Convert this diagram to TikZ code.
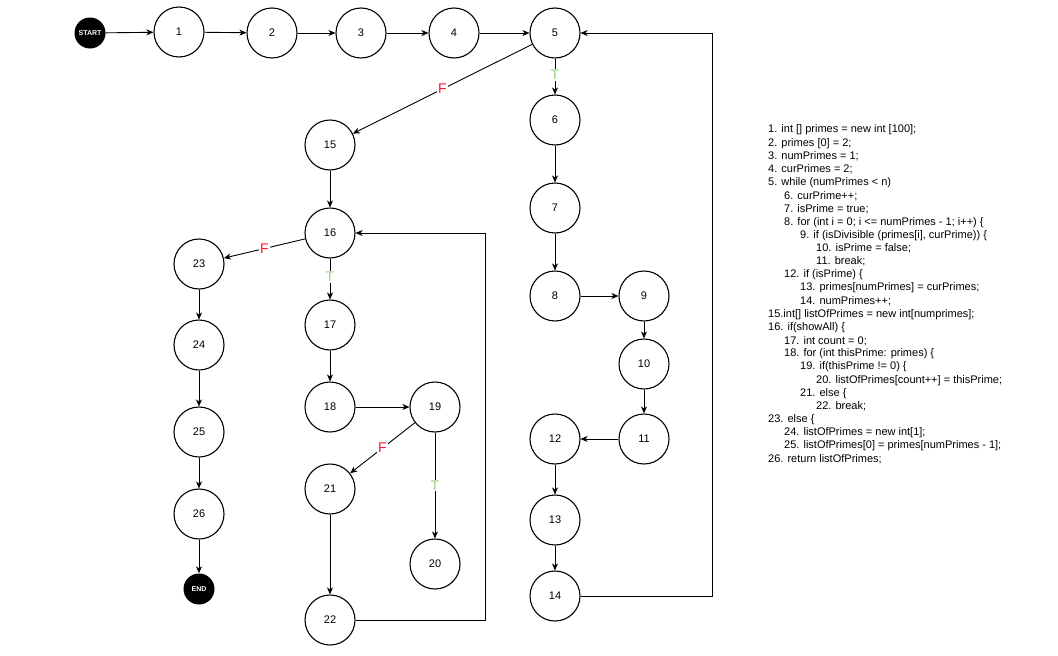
\documentclass[tikz,border=0pt]{standalone}
\usepackage{fontspec}
\setmainfont{Liberation Sans}
\usetikzlibrary{arrows.meta}
\definecolor{fred}{RGB}{255,20,40}
\definecolor{tgreen}{RGB}{150,208,130}
\tikzset{
  st/.style={circle,draw=black,line width=1.1pt,minimum size=50pt,inner sep=0pt,font=\fontsize{11}{11}\selectfont,fill=white},
  term/.style={circle,fill=black,minimum size=31pt,inner sep=0pt,text=white,font=\fontsize{7}{7}\selectfont\bfseries},
  ar/.style={line width=0.9pt,-{Stealth[length=7pt,width=6pt,inset=2pt]}},
  flab/.style={fill=white,inner sep=1pt,text=fred,font=\fontsize{14}{14}\selectfont},
  tlab/.style={fill=white,inner sep=1pt,text=tgreen,font=\fontsize{14}{14}\selectfont},
  code/.style={anchor=west,inner sep=0pt,font=\fontsize{11}{11}\selectfont}
}
\begin{document}
\begin{tikzpicture}[x=1pt,y=-1pt]
\useasboundingbox (0,0) rectangle (1058,656);
\node[term] (start) at (90,33) {START};
\node[st] (n1) at (179,32) {1};
\node[st] (n2) at (272,33) {2};
\node[st] (n3) at (361,33) {3};
\node[st] (n4) at (454,33) {4};
\node[st] (n5) at (555,33) {5};
\node[st] (n6) at (555,120) {6};
\node[st] (n7) at (555,208) {7};
\node[st] (n8) at (555,296) {8};
\node[st] (n9) at (644,296) {9};
\node[st] (n10) at (644,364) {10};
\node[st] (n11) at (644,439) {11};
\node[st] (n12) at (555,439) {12};
\node[st] (n13) at (555,520) {13};
\node[st] (n14) at (555,596) {14};
\node[st] (n15) at (330,145) {15};
\node[st] (n16) at (330,233) {16};
\node[st] (n17) at (330,325) {17};
\node[st] (n18) at (330,407) {18};
\node[st] (n19) at (435,407) {19};
\node[st] (n20) at (435,564) {20};
\node[st] (n21) at (330,489) {21};
\node[st] (n22) at (330,620) {22};
\node[st] (n23) at (199,264) {23};
\node[st] (n24) at (199,345) {24};
\node[st] (n25) at (199,432) {25};
\node[st] (n26) at (199,514) {26};
\node[term] (end) at (199,589) {END};
\coordinate (c14) at (712,596);
\coordinate (c5) at (712,33);
\coordinate (c22) at (485,620);
\coordinate (c16) at (485,233);

\draw[ar] (start) -- (n1);
\draw[ar] (n1) -- (n2);
\draw[ar] (n2) -- (n3);
\draw[ar] (n3) -- (n4);
\draw[ar] (n4) -- (n5);
\draw[ar] (n5) -- node[tlab,pos=0.45]{T} (n6);
\draw[ar] (n5) -- node[flab,pos=0.5]{F} (n15);
\draw[ar] (n6) -- (n7);
\draw[ar] (n7) -- (n8);
\draw[ar] (n8) -- (n9);
\draw[ar] (n9) -- (n10);
\draw[ar] (n10) -- (n11);
\draw[ar] (n11) -- (n12);
\draw[ar] (n12) -- (n13);
\draw[ar] (n13) -- (n14);
\draw[ar] (n14.east) -- (c14) -- (c5) -- (n5.east);
\draw[ar] (n15) -- (n16);
\draw[ar] (n16) -- node[tlab,pos=0.45]{T} (n17);
\draw[ar] (n16) -- node[flab,pos=0.5]{F} (n23);
\draw[ar] (n17) -- (n18);
\draw[ar] (n18) -- (n19);
\draw[ar] (n19) -- node[flab,pos=0.5]{F} (n21);
\draw[ar] (n19) -- node[tlab,pos=0.5]{T} (n20);
\draw[ar] (n21) -- (n22);
\draw[ar] (n22.east) -- (c22) -- (c16) -- (n16.east);
\draw[ar] (n23) -- (n24);
\draw[ar] (n24) -- (n25);
\draw[ar] (n25) -- (n26);
\draw[ar] (n26) -- (end);

\def\lsp{13.17}
\node[code] (l1) at (768,130+0*\lsp) {1. int [] primes = new int [100];};
\node[code] (l2) at (768,130+1*\lsp) {2. primes [0] = 2;};
\node[code] (l3) at (768,130+2*\lsp) {3. numPrimes = 1;};
\node[code] (l4) at (768,130+3*\lsp) {4. curPrimes = 2;};
\node[code] (l5) at (768,130+4*\lsp) {5. while (numPrimes < n)};
\node[code] (l6) at (784,130+5*\lsp) {6. curPrime++;};
\node[code] (l7) at (784,130+6*\lsp) {7. isPrime = true;};
\node[code] (l8) at (784,130+7*\lsp) {8. for (int i = 0; i <= numPrimes - 1; i++) \{};
\node[code] (l9) at (800,130+8*\lsp) {9. if (isDivisible (primes[i], curPrime)) \{};
\node[code] (l10) at (816,130+9*\lsp) {10. isPrime = false;};
\node[code] (l11) at (816,130+10*\lsp) {11. break;};
\node[code] (l12) at (784,130+11*\lsp) {12. if (isPrime) \{};
\node[code] (l13) at (800,130+12*\lsp) {13. primes[numPrimes] = curPrimes;};
\node[code] (l14) at (800,130+13*\lsp) {14. numPrimes++;};
\node[code] (l15) at (768,130+14*\lsp) {15.int[] listOfPrimes = new int[numprimes];};
\node[code] (l16) at (768,130+15*\lsp) {16. if(showAll) \{};
\node[code] (l17) at (784,130+16*\lsp) {17. int count = 0;};
\node[code] (l18) at (784,130+17*\lsp) {18. for (int thisPrime: primes) \{};
\node[code] (l19) at (800,130+18*\lsp) {19. if(thisPrime != 0) \{};
\node[code] (l20) at (816,130+19*\lsp) {20. listOfPrimes[count++] = thisPrime;};
\node[code] (l21) at (800,130+20*\lsp) {21. else \{};
\node[code] (l22) at (816,130+21*\lsp) {22. break;};
\node[code] (l23) at (768,130+22*\lsp) {23. else \{};
\node[code] (l24) at (784,130+23*\lsp) {24. listOfPrimes = new int[1];};
\node[code] (l25) at (784,130+24*\lsp) {25. listOfPrimes[0] = primes[numPrimes - 1];};
\node[code] (l26) at (768,130+25*\lsp) {26. return listOfPrimes;};
\end{tikzpicture}
\end{document}
